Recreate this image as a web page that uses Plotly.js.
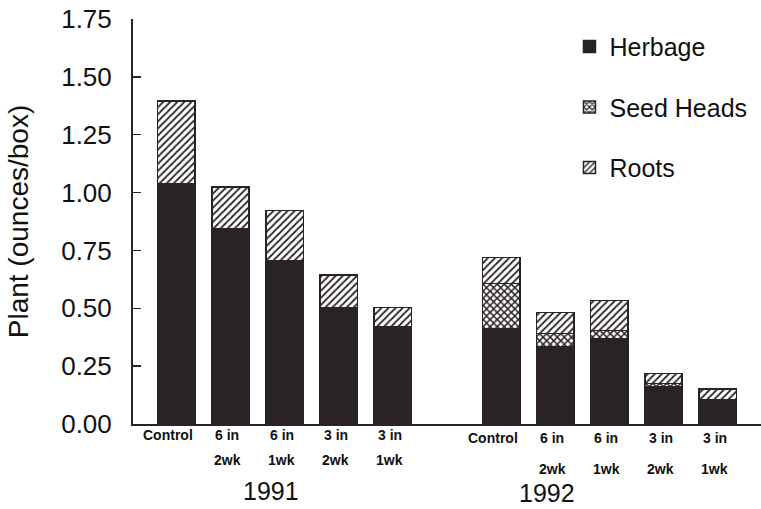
<!DOCTYPE html>
<html>
<head>
<meta charset="utf-8">
<script src="https://cdn.plot.ly/plotly-3.0.1.min.js"></script>
<style>html,body{margin:0;padding:0;background:#fff;}#chart{width:761px;height:509px;}</style>
</head>
<body>
<div id="chart"></div>
<script>
// ---- data ----
var years = ["1991", "1992"];
var treatTop = ["Control", "6 in", "6 in", "3 in", "3 in"];
var treatBottom = ["", "2wk", "1wk", "2wk", "1wk"];
var herbage1991 = [1.04, 0.845, 0.707, 0.503, 0.421];
var seed1991    = [0, 0, 0, 0, 0];
var roots1991   = [0.355, 0.18, 0.215, 0.14, 0.082];
var herbage1992 = [0.413, 0.335, 0.37, 0.162, 0.104];
var seed1992    = [0.194, 0.056, 0.034, 0.013, 0.0];
var roots1992   = [0.113, 0.091, 0.13, 0.043, 0.047];
var yTicks = [0, 0.25, 0.5, 0.75, 1.0, 1.25, 1.5, 1.75];

// ---- build ----
var ink = "#2a2324";
var FONT = "Liberation Sans, Arial, Helvetica, sans-serif";
var nPer = treatTop.length;
var gap = 1; // empty slot between years
var xs = [];
for (var g = 0; g < years.length; g++) {
  for (var i = 0; i < nPer; i++) xs.push(g * (nPer + gap) + i);
}
var herb = herbage1991.concat(herbage1992);
var seed = seed1991.concat(seed1992);
var roots = roots1991.concat(roots1992);

var common = {type: "bar", x: xs, width: 0.69};
var traces = [
  Object.assign({}, common, {name: "Herbage", y: herb, legendgroup: "a",
    marker: {color: ink, line: {color: ink, width: 1.5}}}),
  Object.assign({}, common, {name: "Seed Heads", y: seed, legendgroup: "b",
    marker: {color: "#ffffff", line: {color: ink, width: 1.5},
      pattern: {shape: "x", fgcolor: ink, bgcolor: "#ffffff", size: 5, solidity: 0.5}}}),
  Object.assign({}, common, {name: "Roots", y: roots, legendgroup: "c",
    marker: {color: "#ffffff", line: {color: ink, width: 1.5},
      pattern: {shape: "/", fgcolor: ink, bgcolor: "#ffffff", size: 5, solidity: 0.35}}})
];

var annotations = [];
for (var k = 0; k < xs.length; k++) {
  var j = k % nPer;
  var extra = k >= nPer ? 3 : 0;
  var xsh = j === 0 ? -8 : -3;
  annotations.push({x: xs[k], y: 0, xref: "x", yref: "paper", text: treatTop[j],
    showarrow: false, yanchor: "middle", yshift: -11 - extra, xshift: xsh,
    font: {family: FONT, size: 14, weight: "bold", color: "#111"}});
  if (treatBottom[j]) annotations.push({x: xs[k], y: 0, xref: "x", yref: "paper", text: treatBottom[j],
    showarrow: false, yanchor: "middle", yshift: -36 - extra * 3, xshift: xsh,
    font: {family: FONT, size: 14, weight: "bold", color: "#111"}});
}
var yearX = [1.74, 6.85];
for (var g2 = 0; g2 < years.length; g2++) {
  annotations.push({x: yearX[g2], y: 0, xref: "x", yref: "paper", text: years[g2],
    showarrow: false, yanchor: "middle", yshift: -67 - g2 * 2,
    font: {family: FONT, size: 25, color: "#111"}});
}

var layout = {
  width: 761, height: 509,
  margin: {l: 133, r: 0, t: 19, b: 85},
  paper_bgcolor: "#ffffff", plot_bgcolor: "#ffffff",
  barmode: "stack",
  showlegend: true,
  legend: {x: 0.695, y: 0.988, xanchor: "left", yanchor: "top", traceorder: "grouped",
    tracegroupgap: 25, font: {family: FONT, size: 25, color: "#111"}, bgcolor: "rgba(0,0,0,0)"},
  xaxis: {range: [-0.8, 10.8], showline: true, linewidth: 2, linecolor: ink,
    showticklabels: false, ticks: "", showgrid: false, zeroline: false, fixedrange: true},
  yaxis: {range: [0, 1.75], tickvals: yTicks, ticktext: yTicks.map(function (v) { return v.toFixed(2); }),
    ticks: "inside", ticklen: 8, tickwidth: 1.5, tickcolor: ink,
    showline: true, linewidth: 2, linecolor: ink, showgrid: false, zeroline: false,
    ticklabelstandoff: 14,
    tickfont: {family: FONT, size: 26, color: "#111"},
    title: {text: "Plant (ounces/box)", standoff: 24, font: {family: FONT, size: 28, color: "#111"}}},
  annotations: annotations
};

Plotly.newPlot("chart", traces, layout, {displayModeBar: false, staticPlot: true});
</script>
</body>
</html>
